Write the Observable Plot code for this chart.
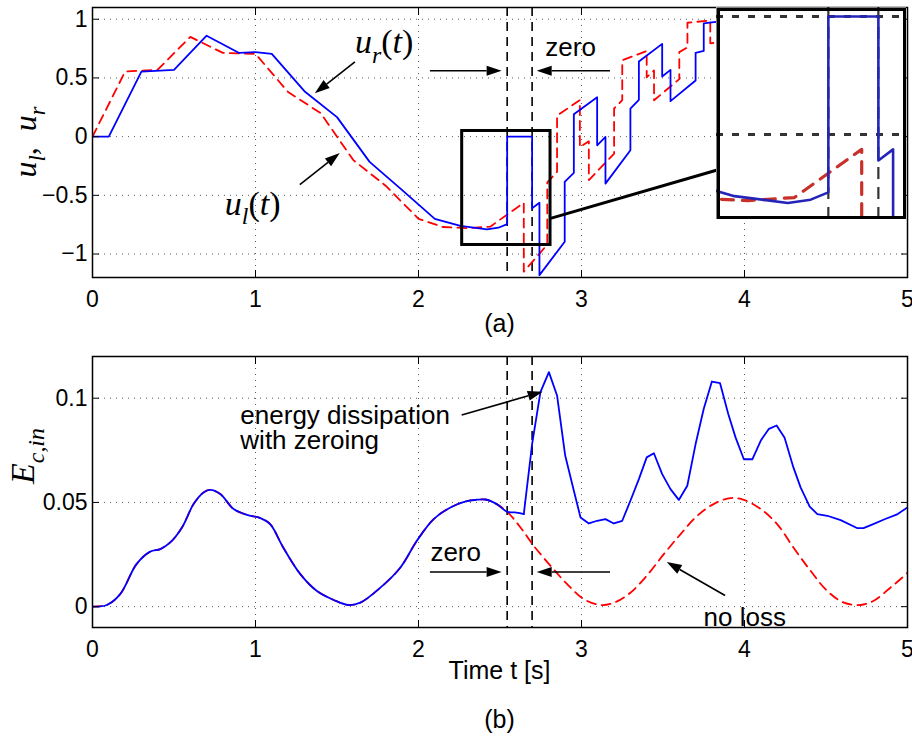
<!DOCTYPE html>
<html><head><meta charset="utf-8">
<script src="https://cdn.jsdelivr.net/npm/d3@7"></script>
<script src="https://cdn.jsdelivr.net/npm/@observablehq/plot@0.6"></script>
<style>
body{margin:0;background:#fff;}
#root{position:relative;width:912px;height:736px;background:#fff;font-family:"Liberation Sans",Arial,sans-serif;color:#000;overflow:hidden;}
#root > *{position:absolute;}
.cap{left:92px;width:815px;text-align:center;font-size:25px;line-height:30px;}
</style></head><body><div id="root"></div>
<script>
// ---------- axes ----------
const xTicks = [0, 1, 2, 3, 4, 5];
const uTicks = [-1, -0.5, 0, 0.5, 1];
const uTickLabels = ["\u22121", "\u22120.5", "0", "0.5", "1"];
const eTicks = [0, 0.05, 0.1];
const eTickLabels = ["0", "0.05", "0.1"];
const tDomain = [0, 5];
const uDomain = [-1.2, 1.1];
const eDomain = [-0.01, 0.12];
const zeroTimes = [2.544, 2.697];

// ---------- (a) u_r(t) solid blue, u_l(t) dashed red  [t, u] ----------
const ur = [[0,0],[0.1,0],[0.3,0.554],[0.5,0.569],[0.7,0.86],[0.9,0.713],[1.0,0.72],[1.1,0.705],[1.3,0.387],[1.5,0.166],
  [1.7,-0.215],[1.9,-0.456],[2.1,-0.70],[2.257,-0.761],[2.42,-0.79],[2.49,-0.776],[2.544,-0.745],[2.544,0],[2.697,0],[2.697,-0.61],
  [2.742,-0.563],[2.742,-1.18],[2.897,-0.895],[2.897,-0.385],[2.953,-0.309],[2.953,0.19],[3.096,0.336],[3.096,-0.074],[3.147,-0.003],[3.147,-0.40],
  [3.30,-0.116],[3.30,0.238],[3.352,0.314],[3.352,0.64],[3.495,0.79],[3.495,0.512],[3.546,0.569],[3.546,0.302],[3.70,0.478],[3.70,0.713],
  [3.75,0.73],[3.75,0.965],[3.90,0.99]];
const ul = [[0,0],[0.2,0.554],[0.4,0.57],[0.6,0.85],[0.8,0.713],[1.0,0.705],[1.2,0.38],[1.4,0.2],[1.6,-0.2],[1.8,-0.42],
  [2.0,-0.70],[2.15,-0.77],[2.3,-0.78],[2.44,-0.767],[2.554,-0.654],[2.646,-0.563],[2.646,-1.15],[2.79,-0.92],[2.79,-0.39],[2.85,-0.30],
  [2.85,0.18],[2.99,0.31],[2.99,-0.09],[3.045,-0.04],[3.045,-0.37],[3.20,-0.145],[3.20,0.24],[3.25,0.31],[3.25,0.65],[3.40,0.73],
  [3.40,0.506],[3.445,0.563],[3.445,0.31],[3.60,0.49],[3.60,0.72],[3.65,0.76],[3.65,0.97],[3.79,0.99],[3.79,0.795],[3.90,0.81]];

// zoom box and inset window
const zoomBoxT = [2.268, 2.81];
const zoomBoxU = [-0.923, 0.048];
const connector = [2.81, -0.696, 3.843, -0.28];
const insetT = [2.202, 2.783];
const insetU = [-0.86, 0.038];
const insetGridU = [0, -0.5];

// ---------- (b) energy  [t, E] ----------
const eZeroing = [[0,0],[0.088,0.0008],[0.17,0.006],[0.27,0.0204],[0.354,0.0264],[0.416,0.0276],[0.477,0.0308],[0.549,0.038],[0.62,0.0492],[0.681,0.0548],
  [0.722,0.056],[0.784,0.054],[0.866,0.0468],[0.948,0.044],[1.03,0.0425],[1.09,0.0396],[1.17,0.0284],[1.275,0.0156],[1.377,0.0075],[1.48,0.0032],
  [1.57,0.0008],[1.643,0.0019],[1.766,0.0091],[1.889,0.0188],[1.99,0.0316],[2.093,0.042],[2.196,0.0476],[2.29,0.0505],[2.36,0.0513],[2.41,0.0514],
  [2.48,0.0492],[2.544,0.0455],[2.59,0.0452],[2.646,0.0444],[2.697,0.078],[2.748,0.1029],[2.80,0.1125],[2.85,0.1013],[2.90,0.0725],[2.953,0.0556],
  [2.994,0.0428],[3.045,0.0399],[3.096,0.0412],[3.147,0.042],[3.198,0.0399],[3.25,0.0412],[3.30,0.0508],[3.352,0.0612],[3.40,0.0716],[3.444,0.0736],
  [3.495,0.0636],[3.546,0.0564],[3.597,0.0512],[3.649,0.058],[3.70,0.078],[3.75,0.0949],[3.80,0.108],[3.85,0.1072],[3.90,0.0925],[3.945,0.0812],
  [3.996,0.0707],[4.048,0.0707],[4.10,0.0797],[4.15,0.0853],[4.197,0.0869],[4.246,0.081],[4.30,0.0668],[4.344,0.0572],[4.40,0.048],[4.447,0.0444],
  [4.508,0.0436],[4.59,0.0415],[4.69,0.0377],[4.73,0.0377],[4.79,0.0396],[4.856,0.0418],[4.94,0.0444],[5.0,0.0476]];
const eNoLossAfter = [[2.626,0.038],[2.707,0.0292],[2.81,0.0196],[2.912,0.0108],[3.014,0.0036],[3.117,0.0008],[3.2,0.0019],[3.30,0.0067],[3.40,0.0148],
  [3.505,0.0252],[3.608,0.0348],[3.71,0.0436],[3.81,0.0492],[3.915,0.0521],[3.996,0.0512],[4.10,0.0468],[4.20,0.0396],[4.30,0.0284],[4.405,0.0172],
  [4.508,0.0075],[4.61,0.0019],[4.713,0.0008],[4.79,0.0027],[4.895,0.0091],[4.98,0.0148],[5.0,0.0163]];
const eNoLoss = eZeroing.filter(d => d[0] <= zeroTimes[0]).concat(eNoLossAfter);

// ---------- annotations ----------
const topArrows = [[1.613,0.633,1.367,0.365],[1.275,-0.413,1.52,-0.144],[2.073,0.557,2.513,0.557],[3.178,0.557,2.728,0.557]];
const topNotes = [{t:2.778, v:0.69, s:"zero"}];
const botArrows = [[2.268,0.0917,2.765,0.1029],[2.073,0.01635,2.513,0.01635],[3.178,0.01635,2.728,0.01635],[3.884,0.0051,3.526,0.0212]];
const botNotes = [{t:0.907, v:0.0757, s:"energy dissipation\nwith zeroing"},{t:2.073, v:0.0219, s:"zero"},{t:3.749, v:-0.0093, s:"no loss"}];

const BLUE = "#0000ff", RED = "#ff0000";
const grid = {stroke:"#000", strokeOpacity:0.65, strokeDasharray:"1,5", strokeWidth:1};
const px = d => d[0], py = d => d[1];

function axes(yTicks, yLabels) {
  return [
    Plot.axisX(xTicks, {anchor:"bottom", tickSize:-7, tickPadding:20, label:null, tickFormat:d => String(d)}),
    Plot.axisX(xTicks, {anchor:"top", tickSize:-7, label:null, tickFormat:() => ""}),
    Plot.axisY(yTicks, {anchor:"left", tickSize:-7, tickPadding:12, label:null, tickFormat:d => yLabels[yTicks.indexOf(d)]}),
    Plot.axisY(yTicks, {anchor:"right", tickSize:-7, label:null, tickFormat:() => ""})
  ];
}
const baseStyle = {fontFamily:"'Liberation Sans', Arial, sans-serif", fontSize:"23px", color:"#000", background:"transparent", overflow:"visible"};

const root = document.getElementById("root");

// ---------- panel (a) ----------
const pa = Plot.plot({
  width:912, height:320, marginLeft:92, marginRight:5, marginTop:7, marginBottom:43,
  x:{domain:tDomain}, y:{domain:uDomain},
  style:baseStyle,
  marks:[
    Plot.gridX(xTicks, grid), Plot.gridY(uTicks, grid),
    Plot.ruleX(zeroTimes, {stroke:"#000", strokeWidth:1.6, strokeDasharray:"9,6"}),
    Plot.line(ul, {x:px, y:py, stroke:RED, strokeWidth:1.8, strokeDasharray:"9,6", clip:true}),
    Plot.line(ur, {x:px, y:py, stroke:BLUE, strokeWidth:1.8, clip:true}),
    Plot.rect([0], {x1:zoomBoxT[0], x2:zoomBoxT[1], y1:zoomBoxU[0], y2:zoomBoxU[1], fill:"none", stroke:"#000", strokeWidth:3}),
    Plot.link([connector], {x1:d=>d[0], y1:d=>d[1], x2:d=>d[2], y2:d=>d[3], stroke:"#000", strokeWidth:3}),
    Plot.text(topNotes, {x:"t", y:"v", text:"s", textAnchor:"start", lineAnchor:"bottom", fontSize:26}),
    Plot.frame({stroke:"#000", strokeWidth:1.5}),
    ...axes(uTicks, uTickLabels)
  ]
});
pa.style.left = "0px"; pa.style.top = "0px";
root.appendChild(pa);

// ---------- panel (b) ----------
const splitT = 2.646;
const pb = Plot.plot({
  width:912, height:436, marginLeft:92, marginRight:5, marginTop:56, marginBottom:109,
  x:{domain:tDomain}, y:{domain:eDomain},
  style:baseStyle,
  marks:[
    Plot.gridX(xTicks, grid), Plot.gridY(eTicks, grid),
    Plot.ruleX(zeroTimes, {stroke:"#000", strokeWidth:1.6, strokeDasharray:"9,6"}),
    Plot.line(eNoLoss, {x:px, y:py, stroke:RED, strokeWidth:1.8, strokeDasharray:"9,6", curve:"catmull-rom", clip:true}),
    Plot.line(eZeroing.filter(d => d[0] <= splitT), {x:px, y:py, stroke:BLUE, strokeWidth:1.8, curve:"catmull-rom", clip:true}),
    Plot.line(eZeroing.filter(d => d[0] >= splitT), {x:px, y:py, stroke:BLUE, strokeWidth:1.8, clip:true}),
    Plot.text(botNotes, {x:"t", y:"v", text:"s", textAnchor:"start", lineAnchor:"bottom", lineHeight:0.95, fontSize:26}),
    Plot.frame({stroke:"#000", strokeWidth:1.5}),
    ...axes(eTicks, eTickLabels)
  ]
});
pb.style.left = "0px"; pb.style.top = "300px";
root.appendChild(pb);

// ---------- inset (same series, zoomed window) ----------
const inset = Plot.plot({
  width:190, height:212, margin:0,
  x:{domain:insetT, axis:null}, y:{domain:insetU, axis:null},
  style:{background:"white"},
  marks:[
    Plot.gridY(insetGridU, {stroke:"#333", strokeOpacity:1, strokeWidth:3, strokeDasharray:"7,9"}),
    Plot.ruleX(zeroTimes, {stroke:"#333", strokeWidth:2.2, strokeDasharray:"12,8"}),
    Plot.line(ul, {x:px, y:py, stroke:"#c8302a", strokeWidth:3.2, strokeDasharray:"12,9", clip:true}),
    Plot.line(ur, {x:px, y:py, stroke:"#2424b8", strokeWidth:2.6, clip:true}),
    Plot.frame({stroke:"#000", strokeWidth:3.5, inset:1.75})
  ]
});
inset.style.left = "716px"; inset.style.top = "7px";
root.appendChild(inset);

// ---------- arrows & math labels (through the plots' scales) ----------
function drawArrows(plot, list) {
  const sx = plot.scale("x"), sy = plot.scale("y");
  const g = d3.select(plot).append("g");
  for (const [t1, v1, t2, v2] of list) {
    const x1 = sx.apply(t1), y1 = sy.apply(v1), x2 = sx.apply(t2), y2 = sy.apply(v2);
    const L = Math.hypot(x2 - x1, y2 - y1), ux = (x2 - x1) / L, uy = (y2 - y1) / L;
    const hl = 15, hw = 5, bx = x2 - ux * hl, by = y2 - uy * hl;
    g.append("line").attr("x1", x1).attr("y1", y1).attr("x2", bx).attr("y2", by).attr("stroke", "#000").attr("stroke-width", 1.6);
    g.append("path").attr("d", `M${x2},${y2}L${bx - uy * hw},${by + ux * hw}L${bx + uy * hw},${by - ux * hw}Z`).attr("fill", "#000");
  }
}
drawArrows(pa, topArrows);
drawArrows(pb, botArrows);

function mathText(plot, x, y, parts, size, rotate) {
  const t = d3.select(plot).append("text")
    .attr("font-family", "'Liberation Serif','Times New Roman',serif")
    .attr("font-size", size).attr("fill", "#000")
    .attr("text-anchor", rotate ? "middle" : "start")
    .attr("transform", rotate ? `translate(${x},${y}) rotate(-90)` : `translate(${x},${y})`);
  let shift = 0;
  for (const p of parts) {
    const ts = t.append("tspan").text(p.s).attr("font-style", p.up ? "normal" : "italic");
    const target = p.sub ? 0.28 * size : 0;
    if (target !== shift) { ts.attr("dy", target - shift); shift = target; }
    if (p.sub) ts.attr("font-size", size * 0.7);
  }
}
{
  const sx = pa.scale("x"), sy = pa.scale("y");
  mathText(pa, sx.apply(1.613), sy.apply(0.705), [{s:"u"},{s:"r",sub:true},{s:"(",up:true},{s:"t"},{s:")",up:true}], 34);
  mathText(pa, sx.apply(0.815), sy.apply(-0.668), [{s:"u"},{s:"l",sub:true},{s:"(",up:true},{s:"t"},{s:")",up:true}], 34);
  const yc = (sy.apply(uDomain[0]) + sy.apply(uDomain[1])) / 2;
  mathText(pa, 36, yc, [{s:"u"},{s:"l",sub:true},{s:",  ",up:true},{s:"u"},{s:"r",sub:true}], 32, true);
}
{
  const sy = pb.scale("y");
  mathText(pb, 34, sy.apply(0.072), [{s:"E"},{s:"c,in",sub:true}], 34, true);
}

// ---------- captions ----------
function cap(text, top) {
  const d = document.createElement("div");
  d.className = "cap"; d.textContent = text; d.style.top = top + "px";
  root.appendChild(d);
}
cap("(a)", 308);
cap("Time t [s]", 655);
cap("(b)", 704);
</script>
</body></html>
